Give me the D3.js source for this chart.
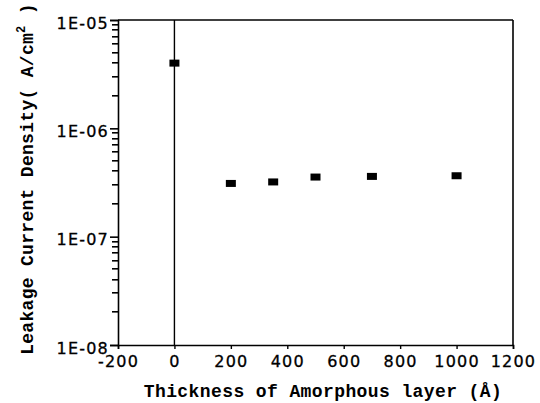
<!DOCTYPE html>
<html>
<head>
<meta charset="utf-8">
<script src="https://cdn.jsdelivr.net/npm/d3@7"></script>
<style>
  body { margin: 0; background: #fff; }
</style>
</head>
<body>
<script>
// Data
const thickness = [0, 200, 350, 500, 700, 1000];
const leakage = [4.0e-6, 3.1e-7, 3.2e-7, 3.55e-7, 3.6e-7, 3.65e-7];
const xTicks = [-200, 0, 200, 400, 600, 800, 1000, 1200];
const yTicks = [1e-8, 1e-7, 1e-6, 1e-5];
const yTickLabels = ["1E-08", "1E-07", "1E-06", "1E-05"];
const minorSteps = [2, 3, 4, 5, 6, 7, 8, 9];

const canvWidth = 540, canvHeight = 403;
const svg = d3.select("body").append("svg")
    .attr("width", canvWidth)
    .attr("height", canvHeight);

const margin = {top: 20, right: 27, bottom: 58, left: 118};
const width = canvWidth - margin.left - margin.right;
const height = canvHeight - margin.top - margin.bottom;

const g = svg.append("g")
    .attr("transform", "translate(" + margin.left + "," + margin.top + ")");

const xScale = d3.scaleLinear().domain([-200, 1200]).range([0, width]);
const yScale = d3.scaleLog().domain([1e-8, 1e-5]).range([height, 0]);

// minor ticks on the log axis (2..9 per decade)
const minorTicks = [];
yTicks.slice(0, 3).forEach(d => minorSteps.forEach(k => minorTicks.push(d * k)));

const tickFont = "'DejaVu Sans', sans-serif";

// minor y ticks
g.append("g").selectAll("rect")
    .data(minorTicks)
    .enter().append("rect")
    .attr("x", -6)
    .attr("y", d => Math.round(yScale(d)) - 1)
    .attr("width", 6)
    .attr("height", 1.6)
    .attr("fill", "#000");

// major y ticks + labels
const yAxis = g.append("g")
    .call(d3.axisLeft(yScale)
        .tickValues(yTicks)
        .tickSize(8)
        .tickPadding(1)
        .tickFormat((d, i) => yTickLabels[i]));
yAxis.select(".domain").attr("stroke-width", 1.6);
yAxis.selectAll("line").attr("stroke-width", 1.6);
yAxis.selectAll("text")
    .attr("font-family", tickFont)
    .attr("font-size", "16px")
    .attr("letter-spacing", "1.2px")
    .attr("dy", "0.5em")
    .attr("stroke", "#000")
    .attr("stroke-width", 0.3)
    .attr("fill", "#000");

// x axis
const xAxis = g.append("g")
    .attr("transform", "translate(0," + height + ")")
    .call(d3.axisBottom(xScale)
        .tickValues(xTicks)
        .tickSize(4)
        .tickPadding(7)
        .tickFormat(d => String(d)));
xAxis.select(".domain").attr("stroke-width", 1.6);
xAxis.selectAll("line").attr("stroke-width", 1.4);
xAxis.selectAll("text")
    .attr("font-family", tickFont)
    .attr("font-size", "16px")
    .attr("letter-spacing", "1.2px")
    .attr("stroke", "#000")
    .attr("stroke-width", 0.3)
    .attr("fill", "#000");

// top and right frame
g.append("line")
    .attr("x1", 0).attr("x2", width)
    .attr("y1", 0).attr("y2", 0)
    .attr("stroke", "#000").attr("stroke-width", 1.6);
g.append("line")
    .attr("x1", width).attr("x2", width)
    .attr("y1", 0).attr("y2", height)
    .attr("stroke", "#000").attr("stroke-width", 1.6);

// vertical line at zero thickness
g.append("line")
    .attr("x1", xScale(0)).attr("x2", xScale(0))
    .attr("y1", 0).attr("y2", height)
    .attr("stroke", "#000").attr("stroke-width", 1.4);

// data markers
g.selectAll("rect.pt")
    .data(thickness)
    .enter().append("rect")
    .attr("class", "pt")
    .attr("x", d => xScale(d) - 5)
    .attr("y", (d, i) => yScale(leakage[i]) - 3.5)
    .attr("width", 10)
    .attr("height", 7)
    .attr("fill", "#000");

const titleFont = "'Liberation Mono', 'DejaVu Sans Mono', monospace";

// x axis title
svg.append("text")
    .attr("x", 323)
    .attr("y", 397)
    .attr("font-family", titleFont)
    .attr("font-weight", "bold")
    .attr("font-size", "18px")
    .attr("letter-spacing", "0.4px")
    .style("text-anchor", "middle")
    .text("Thickness of Amorphous layer (Å)");

// y axis title
const yTitle = svg.append("text")
    .attr("transform", "translate(33,179) rotate(-90)")
    .attr("font-family", titleFont)
    .attr("font-weight", "bold")
    .attr("font-size", "18px")
    .attr("letter-spacing", "0.3px")
    .style("text-anchor", "middle");
yTitle.append("tspan").text("Leakage Current Density( A/cm");
yTitle.append("tspan").attr("font-size", "12px").attr("dy", "-8").text("2");
yTitle.append("tspan").attr("dy", "8").text(" )");
</script>
</body>
</html>
